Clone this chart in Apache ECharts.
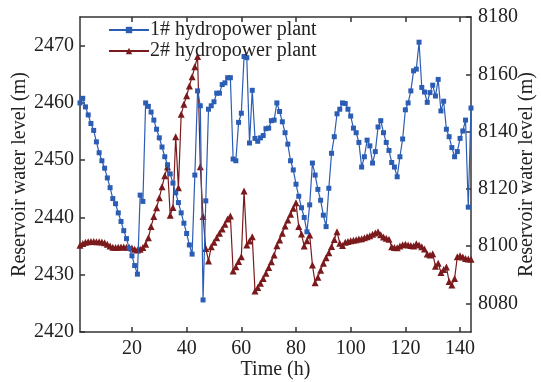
<!DOCTYPE html>
<html>
<head>
<meta charset="utf-8">
<script src="https://cdn.jsdelivr.net/npm/echarts@6/dist/echarts.min.js"></script>
<style>
html,body{margin:0;padding:0;background:#fff;}
#chart{width:541px;height:382px;}
</style>
</head>
<body>
<div id="chart"></div>
<script>
// Hours 1..144
var hours = [];
for (var i = 1; i <= 144; i++) hours.push(i);

var seriesNames = ['1# hydropower plant', '2# hydropower plant'];

// 1# hydropower plant (left axis, m)
var plant1 = [
2460.0,2460.8,2459.3,2457.9,2456.4,2455.2,2453.2,2451.3,2449.9,2448.6,
2446.9,2445.2,2443.3,2442.4,2440.8,2439.3,2437.7,2436.3,2434.6,2433.3,
2431.6,2430.1,2443.9,2442.8,2460.0,2459.4,2458.4,2457.0,2455.4,2453.9,
2452.3,2450.6,2449.2,2447.6,2446.0,2444.3,2442.6,2440.8,2439.0,2437.2,
2435.2,2433.6,2447.4,2462.1,2459.5,2425.6,2442.9,2458.9,2459.5,2460.2,
2461.7,2461.7,2463.2,2463.5,2464.4,2464.4,2450.2,2449.9,2456.6,2458.2,
2468.1,2467.9,2453.0,2462.2,2453.8,2453.3,2453.9,2454.3,2455.5,2455.6,
2456.9,2457.0,2460.0,2458.5,2456.7,2454.8,2452.8,2449.9,2448.3,2445.8,
2443.7,2441.7,2440.0,2437.5,2442.2,2449.5,2447.4,2444.9,2443.0,2440.4,
2438.4,2445.1,2451.2,2454.1,2458.1,2458.9,2460.0,2459.9,2458.9,2457.7,
2455.6,2454.8,2453.1,2448.8,2450.6,2453.5,2452.5,2449.5,2451.5,2455.8,
2456.9,2454.8,2453.1,2451.7,2449.6,2448.8,2447.1,2450.6,2453.7,2458.8,
2460.0,2462.1,2465.6,2465.9,2470.6,2462.7,2461.9,2460.1,2461.8,2463.1,
2461.2,2464.1,2458.6,2460.3,2455.4,2454.1,2452.2,2450.6,2451.5,2453.8,
2455.1,2457.0,2441.8,2459.1
];

// 2# hydropower plant (right axis, m)
var plant2 = [
8100.3,8100.9,8101.3,8101.5,8101.6,8101.6,8101.5,8101.5,8101.4,8101.2,
8100.6,8100.0,8099.6,8099.5,8099.6,8099.7,8099.7,8099.6,8099.5,8099.3,
8098.9,8098.6,8098.9,8099.5,8100.6,8102.9,8106.8,8110.3,8113.4,8116.9,
8120.7,8124.6,8127.7,8110.8,8113.5,8138.2,8120.4,8146.0,8149.5,8152.5,
8155.9,8159.1,8162.6,8166.2,8127.7,8110.3,8099.2,8094.8,8099.8,8101.3,
8102.9,8104.5,8106.0,8107.6,8109.5,8110.5,8091.3,8092.8,8094.6,8096.3,
8119.2,8100.4,8101.8,8103.3,8084.3,8085.5,8087.0,8088.7,8090.5,8092.5,
8094.5,8096.9,8100.1,8102.1,8104.5,8107.0,8109.1,8111.1,8113.2,8115.1,
8106.8,8104.2,8100.0,8101.9,8103.9,8093.4,8087.2,8089.1,8091.6,8094.0,
8095.9,8097.7,8099.9,8102.3,8105.0,8101.0,8100.2,8101.3,8101.6,8101.9,
8102.0,8102.2,8102.5,8102.6,8102.9,8103.3,8103.6,8104.1,8104.6,8105.0,
8104.0,8103.2,8102.7,8102.4,8099.8,8099.5,8099.4,8100.0,8100.5,8100.6,
8100.4,8100.2,8100.0,8100.8,8100.4,8099.8,8099.0,8097.2,8096.9,8097.3,
8093.0,8094.0,8090.8,8091.8,8092.7,8087.6,8086.4,8088.7,8096.3,8096.6,
8096.2,8095.7,8095.5,8095.4
];

var xTicks = [20, 40, 60, 80, 100, 120, 140];
var leftTicks = [2420, 2430, 2440, 2450, 2460, 2470];
var rightTicks = [8080, 8100, 8120, 8140, 8160, 8180];

var FONT = '"Liberation Serif", "DejaVu Serif", serif';
var AX = '#333';
var BLUE = '#2C5DB5';
var RED = '#7B1A1C';

function pairs(ys) { return hours.map(function (h, k) { return [h, ys[k]]; }); }
function plain(v) { return String(Math.round(v)); }

var chart = echarts.init(document.getElementById('chart'), null, {renderer: 'canvas'});
chart.setOption({
  animation: false,
  backgroundColor: '#fff',
  textStyle: {fontFamily: FONT},
  grid: {left: 80, right: 70, top: 17, bottom: 50, containLabel: false, outerBoundsMode: 'none'},
  legend: {
    orient: 'vertical', left: 103, top: 15, itemGap: 1,
    itemWidth: 40, itemHeight: 8,
    textStyle: {fontFamily: FONT, fontSize: 20, color: '#222', padding: [0, 0, 0, -4]},
    data: seriesNames
  },
  xAxis: [{
    type: 'value', position: 'bottom', min: 1, max: 144,
    name: 'Time (h)', nameLocation: 'middle', nameGap: 28, nameMoveOverlap: false,
    nameTextStyle: {fontFamily: FONT, fontSize: 20, color: '#222'},
    axisLine: {show: true, onZero: false, lineStyle: {color: AX, width: 1.5}},
    axisTick: {show: true, inside: true, length: 5, customValues: xTicks, lineStyle: {color: AX, width: 1.5}},
    axisLabel: {show: true, customValues: xTicks, formatter: plain, margin: 7, fontFamily: FONT, fontSize: 20, color: '#222'},
    splitLine: {show: false}
  }, {
    type: 'value', position: 'top', min: 1, max: 144,
    axisLine: {show: true, onZero: false, lineStyle: {color: AX, width: 1.5}},
    axisTick: {show: true, inside: true, length: 5, customValues: xTicks, lineStyle: {color: AX, width: 1.5}},
    axisLabel: {show: false},
    splitLine: {show: false}
  }],
  yAxis: [{
    type: 'value', position: 'left', min: 2420, max: 2475,
    name: 'Reservoir water level (m)', nameLocation: 'middle', nameGap: 50, nameRotate: 90, nameMoveOverlap: false,
    nameTextStyle: {fontFamily: FONT, fontSize: 20, color: '#222'},
    axisLine: {show: true, onZero: false, lineStyle: {color: AX, width: 1.5}},
    axisTick: {show: true, inside: true, length: 5, customValues: leftTicks, lineStyle: {color: AX, width: 1.5}},
    axisLabel: {show: true, customValues: leftTicks, formatter: plain, margin: 6, fontFamily: FONT, fontSize: 20, color: '#222'},
    splitLine: {show: false}
  }, {
    type: 'value', position: 'right', min: 8070, max: 8180,
    name: 'Reservoir water level (m)', nameLocation: 'middle', nameGap: 46, nameRotate: 90, nameMoveOverlap: false,
    nameTextStyle: {fontFamily: FONT, fontSize: 20, color: '#222'},
    axisLine: {show: true, onZero: false, lineStyle: {color: AX, width: 1.5}},
    axisTick: {show: true, inside: true, length: 5, customValues: rightTicks, lineStyle: {color: AX, width: 1.5}},
    axisLabel: {show: true, customValues: rightTicks, formatter: plain, margin: 7, fontFamily: FONT, fontSize: 20, color: '#222'},
    splitLine: {show: false}
  }],
  series: [{
    name: seriesNames[0], type: 'line', xAxisIndex: 0, yAxisIndex: 0,
    data: pairs(plant1),
    symbol: 'rect', symbolSize: 5, showAllSymbol: true,
    lineStyle: {color: BLUE, width: 1.2},
    itemStyle: {color: BLUE},
    z: 3
  }, {
    name: seriesNames[1], type: 'line', xAxisIndex: 0, yAxisIndex: 1,
    data: pairs(plant2),
    symbol: 'triangle', symbolSize: 7, showAllSymbol: true,
    lineStyle: {color: RED, width: 1.2},
    itemStyle: {color: RED},
    z: 2
  }]
});
</script>
</body>
</html>
